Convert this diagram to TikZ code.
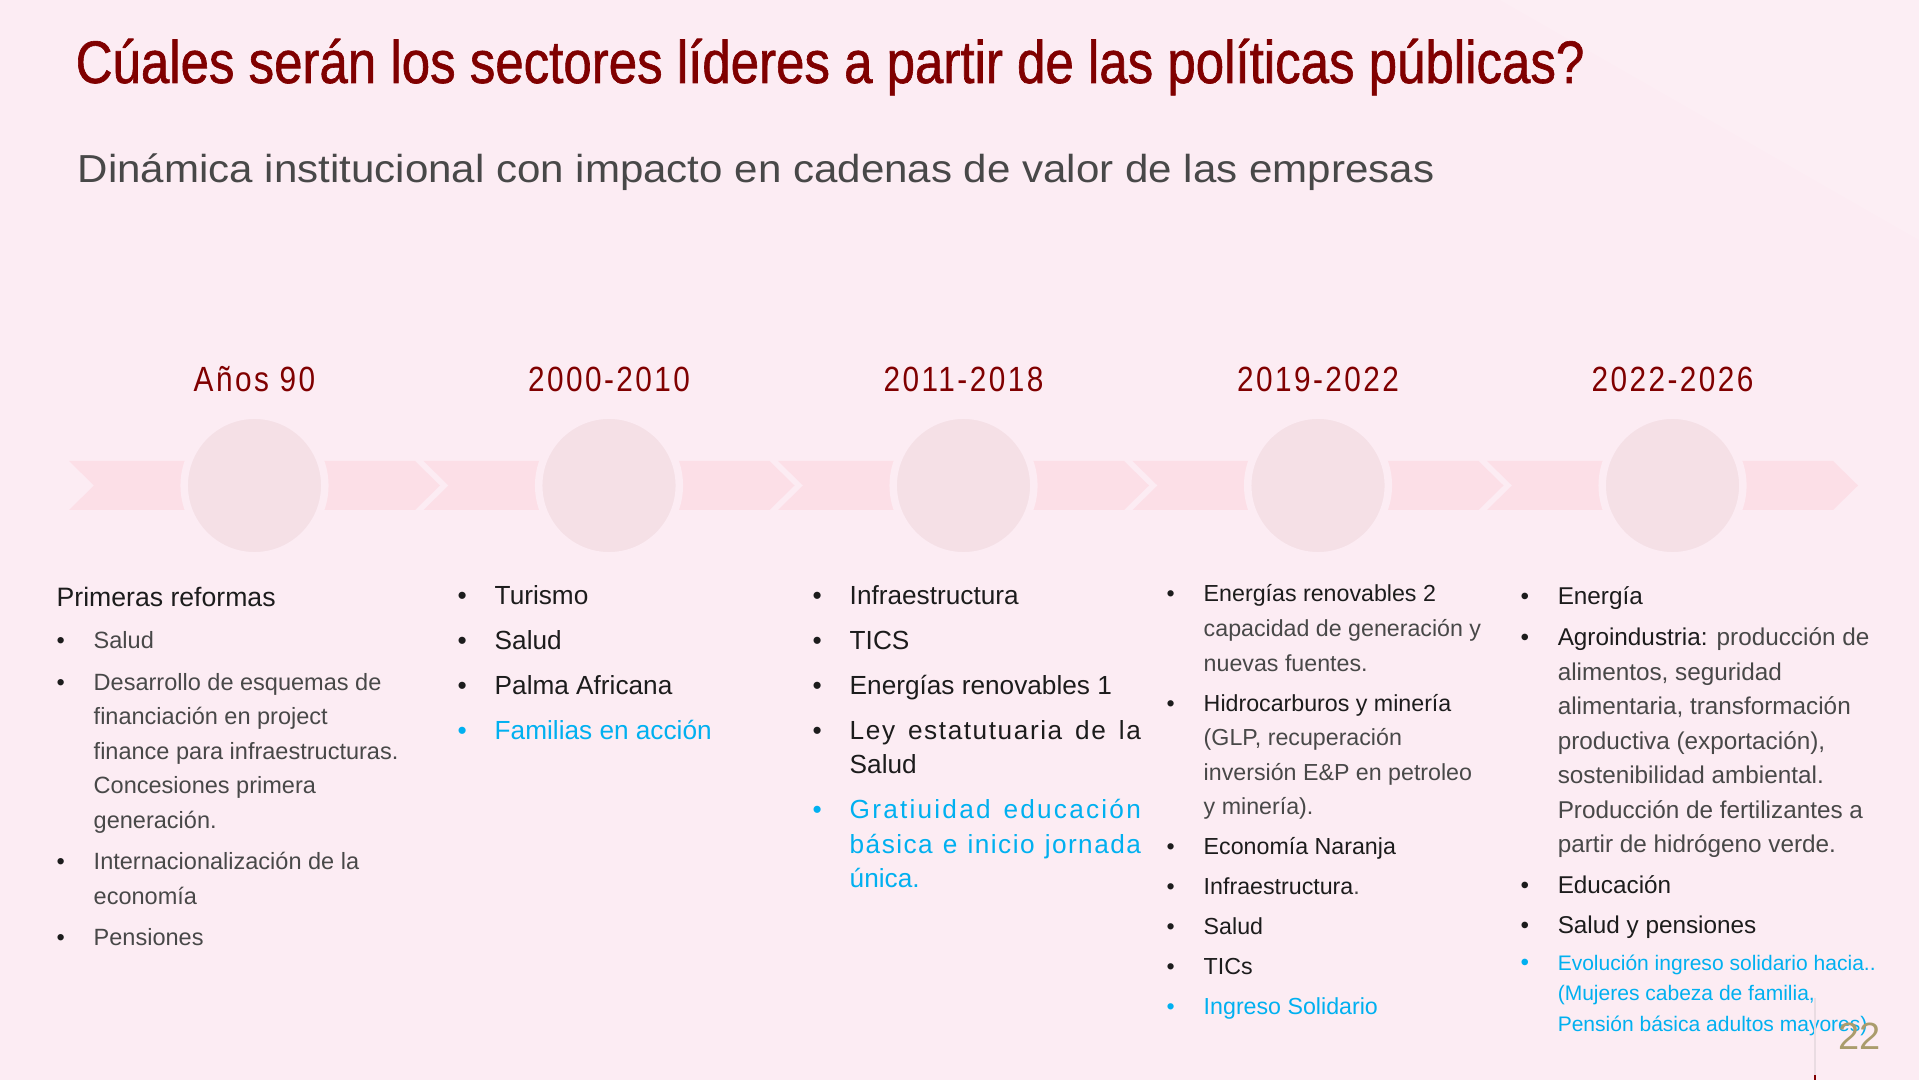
\documentclass[tikz,border=0pt]{standalone}
\usepackage{fontspec}
\setmainfont{Liberation Sans}
\newfontfamily\titlefont[FakeStretch=0.85,FakeBold=1]{Liberation Sans}
\newfontfamily\subfont[FakeStretch=1.078]{Liberation Sans}
\newfontfamily\yearfont[FakeStretch=0.85,LetterSpace=7]{Liberation Sans}
\usepackage{tikz}
\definecolor{fondo}{RGB}{252,236,243}
\definecolor{flecha}{RGB}{252,223,231}
\definecolor{hitofill}{RGB}{245,224,230}
\definecolor{rojo}{RGB}{128,0,0}
\definecolor{celeste}{RGB}{0,176,240}
\definecolor{negro}{RGB}{28,28,28}
\definecolor{gris}{RGB}{72,72,72}
\definecolor{oro}{RGB}{170,156,108}
\newlength{\sangria}\setlength{\sangria}{0.37cm}
% una columna de texto: caja alineada en la primera linea
\newcommand{\columna}[2]{\vtop{\hsize=#1\relax\raggedright\parindent=0pt\noindent#2}}
\newcommand{\bitem}[2][negro]{\leavevmode\hangindent=\sangria\hangafter=1{\color{#1}\makebox[\sangria][l]{\textbullet}}#2\par}
\newcommand{\ligero}{\color{gris}}

\begin{document}
\begin{tikzpicture}[x=0.01cm,y=-0.01cm,
  chevron/.style={fill=flecha},
  hito/.style={circle,fill=hitofill,draw=fondo,line width=0.075cm,minimum size=1.405cm,inner sep=0},
  anio/.style={anchor=base,text=rojo,font=\yearfont\fontsize{9.96pt}{12pt}\selectfont},
  col/.style={anchor=base west,inner sep=0}]
\useasboundingbox (0,0) rectangle (1919,1080);
\fill[fondo] (0,0) rectangle (1919,1080); % fondo
\fill[white,opacity=0.12] (1500,0) -- (1919,0) -- (1919,240) -- cycle; % brillo
\node[anchor=base west,inner sep=0,text=rojo,font=\titlefont\fontsize{17.07pt}{20pt}\selectfont] (titulo) at (75,83)
  {Cúales serán los sectores líderes a partir de las políticas públicas?};
\node[anchor=base west,inner sep=0,text=gris,font=\subfont\fontsize{11.1pt}{13pt}\selectfont] (subtitulo) at (77,183)
  {Dinámica institucional con impacto en cadenas de valor de las empresas};
% linea de tiempo
\foreach \yr [count=\i from 0] in {Años 90,2000-2010,2011-2018,2019-2022,2022-2026} {
  \pgfmathsetmacro\xs{69+354.5*\i}
  \fill[chevron] (\xs,461) -- ++(346,0) -- ++(25,24.5) -- ++(-25,24.5) -- ++(-346,0) -- ++(25,-24.5) -- cycle;
  \node[hito] (h\i) at (\xs+185.5,485.5) {};
  \node[anio] (a\i) at (\xs+185.5,392) {\yr};
}
% columnas
\node[col,text=gris,font=\fontsize{6.69pt}{9.82pt}\selectfont] (col1) at (56,607) {\columna{3.8cm}{\setlength{\parskip}{0.07cm}%
  {\fontsize{7.57pt}{9.82pt}\selectfont\color{negro}Primeras reformas}\par
  \bitem{Salud}
  \bitem{Desarrollo de esquemas de\newline financiación en project\newline finance para infraestructuras.\newline Concesiones primera\newline generación.}
  \bitem{Internacionalización de la\newline economía}
  \bitem{Pensiones}}};
\node[col,text=negro,font=\fontsize{7.45pt}{9.82pt}\selectfont] (col2) at (457,605) {\columna{3.8cm}{\setlength{\parskip}{0.102cm}%
  \bitem{Turismo}
  \bitem{Salud}
  \bitem{Palma Africana}
  \bitem[celeste]{\color{celeste}Familias en acción}}};
\node[col,text=negro,font=\fontsize{7.45pt}{9.82pt}\selectfont] (col3) at (812,605) {\columna{3.8cm}{\setlength{\parskip}{0.102cm}%
  \bitem{Infraestructura}
  \bitem{TICS}
  \bitem{Energías renovables 1}
  \bitem{\makebox[2.91cm][s]{\addfontfeatures{LetterSpace=6}Ley estatutuaria de la}\newline Salud}
  \bitem[celeste]{\color{celeste}\makebox[2.91cm][s]{\addfontfeatures{LetterSpace=8.5}Gratiuidad educación}\newline
    \makebox[2.91cm][s]{\addfontfeatures{LetterSpace=5.5}básica e inicio jornada}\newline única.}}};
\node[col,text=negro,font=\fontsize{6.6pt}{9.82pt}\selectfont] (col4) at (1166,602) {\columna{3.8cm}{\setlength{\parskip}{0.055cm}%
  \bitem{Energías renovables 2\newline {\ligero capacidad de generación y\newline nuevas fuentes.}}
  \bitem{Hidrocarburos y minería\newline {\ligero (GLP, recuperación\newline inversión E\&P en petroleo\newline y minería).}}
  \bitem{Economía Naranja}
  \bitem{Infraestructura{\ligero.}}
  \bitem{Salud}
  \bitem{TICs}
  \bitem[celeste]{\color{celeste}Ingreso Solidario}}};
\node[col,text=negro,font=\fontsize{6.91pt}{9.82pt}\selectfont] (col5) at (1520,605) {\columna{3.95cm}{\setlength{\parskip}{0.06cm}%
  \bitem{Energía}
  \bitem{Agroindustria: {\ligero producción de\newline alimentos, seguridad\newline alimentaria, transformación\newline productiva (exportación),\newline
    sostenibilidad ambiental.\newline Producción de fertilizantes a\newline partir de hidrógeno verde.}}
  \bitem{Educación}
  \bitem{Salud y pensiones}
  \bitem[celeste]{\fontsize{5.98pt}{8.68pt}\selectfont\color{celeste}Evolución ingreso solidario hacia..\newline
    (Mujeres cabeza de familia,\newline Pensión básica adultos mayores)}}};
% pie
\draw[fondo!85!gray,line width=0.012cm] (1815,998) -- (1815,1080);
\draw[rojo,line width=0.015cm] (1815,1075) -- (1815,1080);
\node[anchor=base east,inner sep=0,text=oro,font=\fontsize{10.8pt}{13pt}\selectfont] (pagina) at (1881,1049) {22};
\end{tikzpicture}
\end{document}
